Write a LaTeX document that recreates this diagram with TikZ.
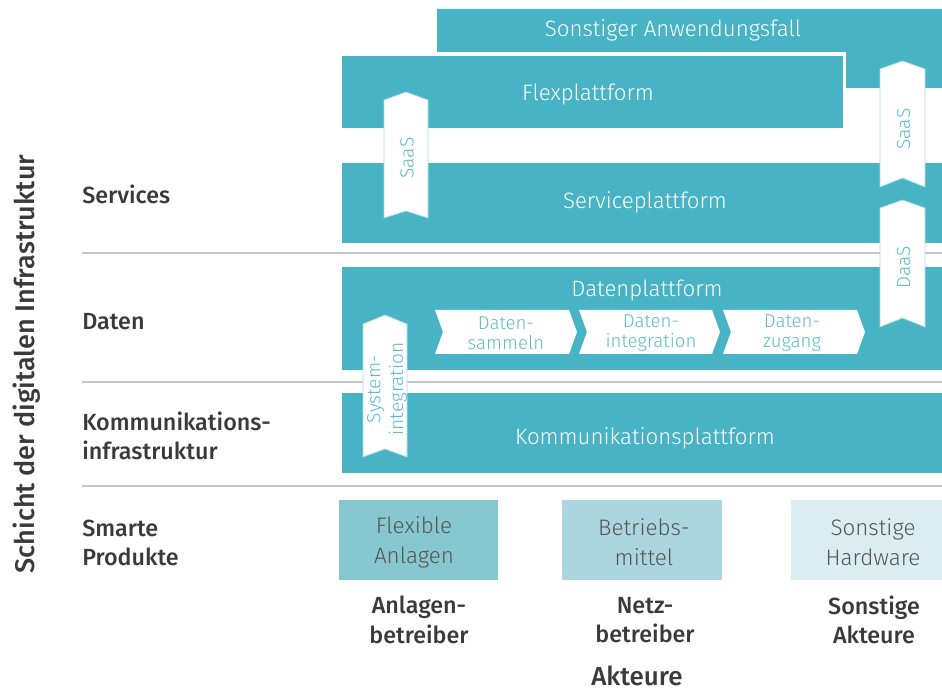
\documentclass[tikz,border=0pt]{standalone}
\usepackage{fontspec}
\setmainfont{Fira Sans Light}
\newfontfamily\medfont{Fira Sans Medium}
\definecolor{tealb}{HTML}{48B3C4}
\definecolor{tealt}{HTML}{5CBCCA}
\definecolor{tealedge}{HTML}{A8DCE4}
\definecolor{boxA}{HTML}{86C7D0}
\definecolor{boxB}{HTML}{ABD6DF}
\definecolor{boxC}{HTML}{DAEDF1}
\definecolor{labgray}{HTML}{3A3A3A}
\definecolor{boxtext}{HTML}{555555}
\definecolor{sepgray}{HTML}{C6C6C6}
\tikzset{
  plat/.style={fill=tealb},
  wt/.style={text=white, font=\fontsize{16.7}{19}\selectfont, inner sep=0pt},
  ribbon/.style={fill=white, draw=tealedge, line width=0.6pt},
  ribtext/.style={text=tealt, font=\fontsize{14.3}{17}\selectfont, align=center, inner sep=0pt, rotate=90},
  chev/.style={fill=white},
  chevtext/.style={text=tealt, font=\fontsize{14}{15}\selectfont, align=center, inner sep=0pt},
  lab/.style={text=labgray, font=\medfont\fontsize{17.5}{22}\selectfont, align=left, anchor=west, inner sep=0pt},
  act/.style={text=labgray, font=\medfont\fontsize{17.5}{22}\selectfont, align=center, inner sep=0pt},
  prodtext/.style={text=boxtext, font=\fontsize{16.8}{22.5}\selectfont, align=center, inner sep=0pt},
  sep/.style={draw=sepgray, line width=2.2pt},
}
\begin{document}
\begin{tikzpicture}[x=0.75pt,y=-0.75pt]
\useasboundingbox (0,0) rectangle (942,691);
% separator lines
\draw[sep] (82,253) -- (942,253);
\draw[sep] (82,382) -- (942,382);
\draw[sep] (82,486) -- (942,486);
% platforms
\fill[plat] (437,9) -- (942,9) -- (942,88) -- (846,88) -- (846,52) -- (437,52) -- cycle;
\fill[plat] (342,56) rectangle (843,128);
\fill[plat] (342,163) rectangle (942,243);
\fill[plat] (342,267) rectangle (942,370);
\fill[plat] (342,393) rectangle (942,473);
\node[wt] (sonst) at (673,30.5) {Sonstiger Anwendungsfall};
\node[wt] (flex) at (588,95) {Flexplattform};
\node[wt] (serv) at (645,202) {Serviceplattform};
\node[wt] (datp) at (647,290.5) {Datenplattform};
\node[wt] (komm) at (645,438.5) {Kommunikationsplattform};
% ribbons
\path[ribbon] (384,100) -- (406,92) -- (428,100) -- (428,218) -- (406,211) -- (384,218) -- cycle;
\node[ribtext] (saas1) at (407,158) {SaaS};
\path[ribbon] (880,69) -- (902.5,61) -- (925,69) -- (925,187) -- (902.5,178) -- (880,187) -- cycle;
\node[ribtext] (saas2) at (903.5,129) {SaaS};
\path[ribbon] (880,208) -- (902.5,200) -- (925,208) -- (925,327) -- (902.5,318) -- (880,327) -- cycle;
\node[ribtext] (daas) at (903.5,267) {DaaS};
\path[ribbon] (363,324) -- (385,315) -- (407,324) -- (407,457) -- (385,449) -- (363,457) -- cycle;
\node[ribtext] (sysint) at (387,389) {System-\\integration};
% chevrons
\path[chev] (435,310) -- (569,310) -- (577,332) -- (569,354) -- (435,354) -- (443,332) -- cycle;
\path[chev] (579,310) -- (712,310) -- (720,332) -- (712,354) -- (579,354) -- (587,332) -- cycle;
\path[chev] (723,310) -- (857,310) -- (865,332) -- (857,354) -- (723,354) -- (731,332) -- cycle;
\node[chevtext] (dsam) at (506,333.5) {Daten-\\sammeln};
\node[chevtext] (dint) at (651,333.5) {Daten-\\integration};
\node[chevtext] (dzug) at (792,333.5) {Daten-\\zugang};
% products
\fill[boxA] (339,500) rectangle (498,580);
\fill[boxB] (562,500) rectangle (722,580);
\fill[boxC] (791,500) rectangle (942,580);
\node[prodtext] (p1) at (414,542) {Flexible\\Anlagen};
\node[prodtext] (p2) at (644,542) {Betriebs-\\mittel};
\node[prodtext] (p3) at (873,542) {Sonstige\\Hardware};
% left labels
\node[lab] (l1) at (82,194) {Services};
\node[lab] (l2) at (82,322) {Daten};
\node[lab] (l3) at (82,436) {Kommunikations-\\infrastruktur};
\node[lab] (l4) at (82,543) {Smarte\\Produkte};
\node[text=labgray, font=\medfont\fontsize{20.3}{22}\selectfont, rotate=90, inner sep=0pt] (schicht) at (27,364) {Schicht der digitalen Infrastruktur};
% actors
\node[act] (a1) at (419,620) {Anlagen-\\betreiber};
\node[act] (a2) at (645,620) {Netz-\\betreiber};
\node[act] (a3) at (874,620) {Sonstige\\Akteure};
\node[text=labgray, font=\medfont\fontsize{19.5}{20}\selectfont, inner sep=0pt] (akt) at (637,675.5) {Akteure};
\end{tikzpicture}
\end{document}
